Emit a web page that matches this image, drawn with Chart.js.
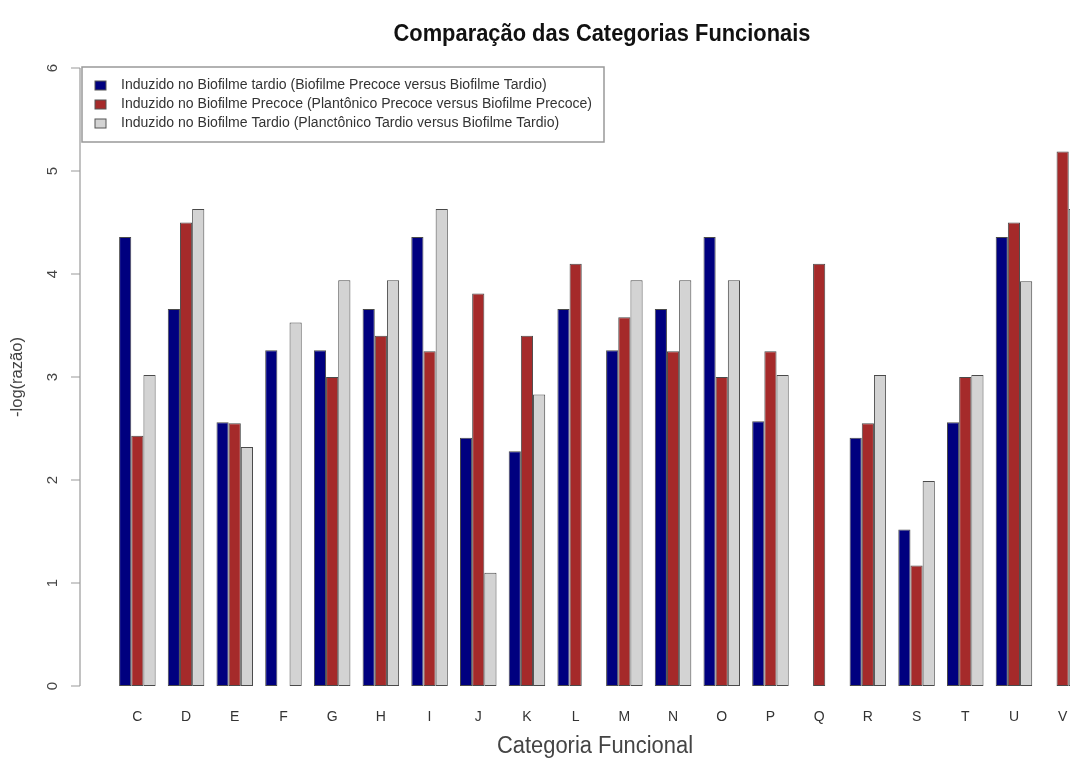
<!DOCTYPE html>
<html>
<head>
<meta charset="utf-8">
<script src="https://cdn.jsdelivr.net/npm/chart.js@4.4.1/dist/chart.umd.min.js"></script>
<style>
  html, body { margin: 0; padding: 0; overflow: hidden; background: #fff; }
  #wrap { width: 1100px; height: 760px; position: relative; }
</style>
</head>
<body>
<div id="wrap"><canvas id="chart"></canvas></div>
<script>
const categories = ['C','D','E','F','G','H','I','J','K','L','M','N','O','P','Q','R','S','T','U','V'];

const biofilmeTardio = [4.36,3.66,2.56,3.26,3.26,3.66,4.36,2.41,2.28,3.66,3.26,3.66,4.36,2.57,null,2.41,1.52,2.56,4.36,null];
const biofilmePrecoce = [2.43,4.50,2.55,null,3.00,3.40,3.25,3.81,3.40,4.10,3.58,3.25,3.00,3.25,4.10,2.55,1.17,3.00,4.50,5.19];
const planctonicoTardio = [3.02,4.63,2.32,3.53,3.94,3.94,4.63,1.10,2.83,null,3.94,3.94,3.94,3.02,null,3.02,1.99,3.02,3.93,4.63];

const seriesLabels = [
  'Induzido no Biofilme tardio (Biofilme Precoce versus Biofilme Tardio)',
  'Induzido no Biofilme Precoce (Plantônico Precoce versus Biofilme Precoce)',
  'Induzido no Biofilme Tardio (Planctônico Tardio versus Biofilme Tardio)'
];
const seriesColors = ['#00007f', '#a52a2a', '#d3d3d3'];

const yTicks = [0, 1, 2, 3, 4, 5, 6];

const chartTitle = 'Comparação das Categorias Funcionais';
const xTitle = 'Categoria Funcional';
const yTitle = '-log(razão)';

const FONT = '"Liberation Sans", Arial, sans-serif';

// draws text squeezed horizontally to a given width (the original uses a narrow font)
function narrowText(ctx, text, x, y, font, color, width, rotate) {
  ctx.save();
  ctx.font = font;
  ctx.fillStyle = color;
  ctx.textBaseline = 'middle';
  ctx.textAlign = 'center';
  const w = ctx.measureText(text).width;
  const sx = width ? width / w : 1;
  ctx.translate(x, y);
  if (rotate) ctx.rotate(-Math.PI / 2);
  ctx.scale(sx, 1);
  ctx.fillText(text, 0, 0);
  ctx.restore();
}

const rDecor = {
  id: 'rDecor',
  afterDraw(chart) {
    const ctx = chart.ctx;
    const area = chart.chartArea;
    const y = chart.scales.y;
    const axisX = area.left - 33;

    // y axis line + ticks
    ctx.save();
    ctx.strokeStyle = '#9a9a9a';
    ctx.lineWidth = 1.2;
    ctx.beginPath();
    ctx.moveTo(axisX, y.getPixelForValue(yTicks[0]));
    ctx.lineTo(axisX, y.getPixelForValue(yTicks[yTicks.length - 1]));
    yTicks.forEach(t => {
      const py = y.getPixelForValue(t);
      ctx.moveTo(axisX, py);
      ctx.lineTo(axisX - 9, py);
    });
    ctx.stroke();
    ctx.restore();
    yTicks.forEach(t => {
      narrowText(ctx, String(t), axisX - 27, y.getPixelForValue(t), '15px ' + FONT, '#444', null, true);
    });

    // axis titles and main title
    narrowText(ctx, yTitle, 18, 377, '16px ' + FONT, '#444', 80, true);
    narrowText(ctx, xTitle, 595, 747, '23px ' + FONT, '#444', 196, false);
    narrowText(ctx, chartTitle, 602, 34, 'bold 24px ' + FONT, '#111', 417, false);

    // legend box (drawn inside the plot like R's legend)
    const bx = axisX + 2, by = area.top - 1, bw = 522, bh = 75;
    ctx.save();
    ctx.fillStyle = '#fff';
    ctx.fillRect(bx, by, bw, bh);
    ctx.strokeStyle = '#999';
    ctx.lineWidth = 1.5;
    ctx.strokeRect(bx, by, bw, bh);
    ctx.restore();
    ctx.save();
    ctx.font = '14px ' + FONT;
    const longest = Math.max(...seriesLabels.map(s => ctx.measureText(s).width));
    ctx.restore();
    const sx = 471 / longest;
    chart.data.datasets.forEach((ds, i) => {
      const ly = by + 18 + i * 19;
      ctx.save();
      ctx.fillStyle = ds.backgroundColor;
      ctx.strokeStyle = '#555';
      ctx.lineWidth = 1;
      ctx.fillRect(bx + 13, ly - 4, 11, 9);
      ctx.strokeRect(bx + 13, ly - 4, 11, 9);
      ctx.font = '14px ' + FONT;
      ctx.fillStyle = '#333';
      ctx.textBaseline = 'middle';
      ctx.translate(bx + 39, ly);
      ctx.scale(sx, 1);
      ctx.fillText(ds.label, 0, 0);
      ctx.restore();
    });
  }
};

const datasets = [biofilmeTardio, biofilmePrecoce, planctonicoTardio].map((values, i) => ({
  label: seriesLabels[i],
  data: values,
  backgroundColor: seriesColors[i],
  borderColor: '#4a4a4a',
  borderWidth: 1,
  borderSkipped: false,
  categoryPercentage: 0.75,
  barPercentage: 1.0
}));

new Chart(document.getElementById('chart').getContext('2d'), {
  type: 'bar',
  data: { labels: categories, datasets: datasets },
  options: {
    responsive: true,
    maintainAspectRatio: false,
    animation: false,
    layout: { padding: { left: 113, top: 68, right: 13, bottom: 34 } },
    plugins: {
      legend: { display: false },
      title: { display: false },
      tooltip: { enabled: false }
    },
    scales: {
      x: {
        grid: { display: false, drawTicks: false },
        border: { display: false },
        ticks: {
          padding: 23,
          color: '#333',
          font: { family: FONT, size: 14 }
        },
        afterFit(scale) { scale.height = 40; }
      },
      y: {
        display: false,
        min: yTicks[0],
        max: yTicks[yTicks.length - 1]
      }
    }
  },
  plugins: [rDecor]
});
</script>
</body>
</html>
